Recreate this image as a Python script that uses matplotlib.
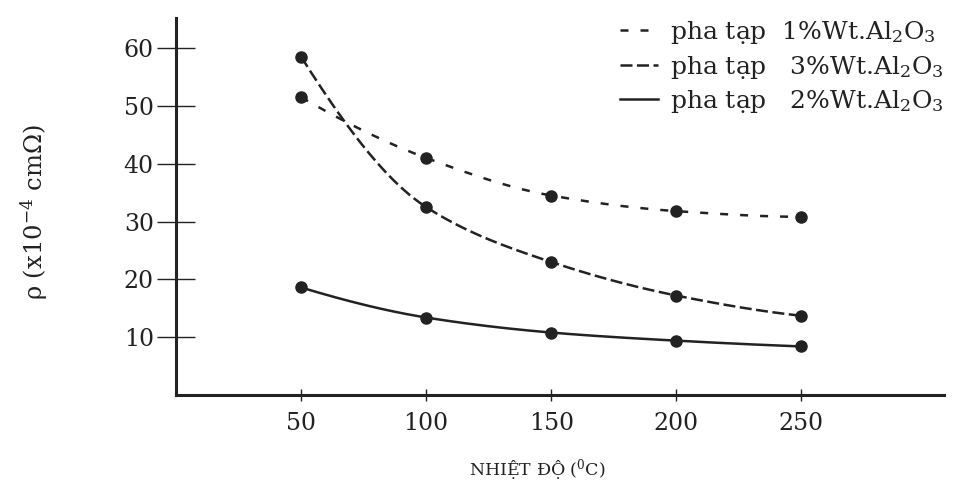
import numpy as np
import matplotlib
matplotlib.use("Agg")
import matplotlib.pyplot as plt

# values
temp = [50, 100, 150, 200, 250]
rho_1pct = [51.5, 41.0, 34.5, 31.8, 30.8]
rho_3pct = [58.5, 32.5, 23.0, 17.2, 13.7]
rho_2pct = [18.6, 13.4, 10.8, 9.4, 8.4]
labels = ["pha tạp  1%Wt.Al$_2$O$_3$",
          "pha tạp   3%Wt.Al$_2$O$_3$",
          "pha tạp   2%Wt.Al$_2$O$_3$"]
yticks = [10, 20, 30, 40, 50, 60]
xticks = [50, 100, 150, 200, 250]

ink = "#222222"
plt.rcParams["font.family"] = ["DejaVu Serif"]
plt.rcParams["mathtext.fontset"] = "dejavuserif"


def smooth(x, y, n=200):
    # monotone cubic hermite, only used to draw the curve between the points
    x = np.asarray(x, float)
    y = np.asarray(y, float)
    h = np.diff(x)
    d = np.diff(y) / h
    m = np.zeros_like(y)
    for i in range(1, len(y) - 1):
        if d[i - 1] * d[i] > 0:
            w1 = 2 * h[i] + h[i - 1]
            w2 = h[i] + 2 * h[i - 1]
            m[i] = (w1 + w2) / (w1 / d[i - 1] + w2 / d[i])
    # three point end slopes
    m[0] = ((2 * h[0] + h[1]) * d[0] - h[0] * d[1]) / (h[0] + h[1])
    if m[0] * d[0] <= 0:
        m[0] = 0
    m[-1] = ((2 * h[-1] + h[-2]) * d[-1] - h[-1] * d[-2]) / (h[-1] + h[-2])
    if m[-1] * d[-1] <= 0:
        m[-1] = 0
    xs = np.linspace(x[0], x[-1], n)
    k = np.clip(np.searchsorted(x, xs) - 1, 0, len(x) - 2)
    t = (xs - x[k]) / h[k]
    h00 = 2 * t**3 - 3 * t**2 + 1
    h10 = t**3 - 2 * t**2 + t
    h01 = -2 * t**3 + 3 * t**2
    h11 = t**3 - t**2
    ys = h00 * y[k] + h10 * h[k] * m[k] + h01 * y[k + 1] + h11 * h[k] * m[k + 1]
    return xs, ys


fig = plt.figure(figsize=(9.57, 4.86), dpi=100)
ax = fig.add_axes([176 / 957, 91 / 486, 768 / 957, 377 / 486])

styles = [(0, (3.2, 4.8)), (0, (4.8, 1.8)), "-"]
for ys, ls, lab in zip([rho_1pct, rho_3pct, rho_2pct], styles, labels):
    sx, sy = smooth(temp, ys)
    ax.plot(sx, sy, color=ink, lw=1.8, ls=ls, label=lab)
    ax.plot(temp, ys, "o", color=ink, ms=8, zorder=3)

ax.set_xlim(0, 307)
ax.set_ylim(0, 65.2)
ax.set_xticks(xticks)
ax.set_yticks(yticks)
ax.tick_params(axis="y", direction="inout", length=28, width=1, colors=ink,
               labelsize=17, pad=2)
ax.tick_params(axis="x", direction="inout", length=8, width=1, colors=ink,
               labelsize=17, pad=8)
for s in ["top", "right"]:
    ax.spines[s].set_visible(False)
for s in ["left", "bottom"]:
    ax.spines[s].set_linewidth(2.2)
    ax.spines[s].set_color(ink)

ax.set_ylabel("ρ (x10$^{-4}$ cmΩ)", fontsize=17.5, color=ink)
ax.yaxis.set_label_coords(-0.164, 0.485)
ax.set_xlabel("NHIỆT ĐỘ ($^0$C)", fontsize=12.5, color=ink)
ax.xaxis.set_label_coords(0.47, -0.165)

leg = ax.legend(loc="upper right", bbox_to_anchor=(1.016, 1.03), frameon=False,
                fontsize=18, handlelength=1.5, handletextpad=0.5,
                labelspacing=0.3, borderpad=0)
for t in leg.get_texts():
    t.set_color(ink)

fig.savefig("out.png", dpi=100, facecolor="white")
